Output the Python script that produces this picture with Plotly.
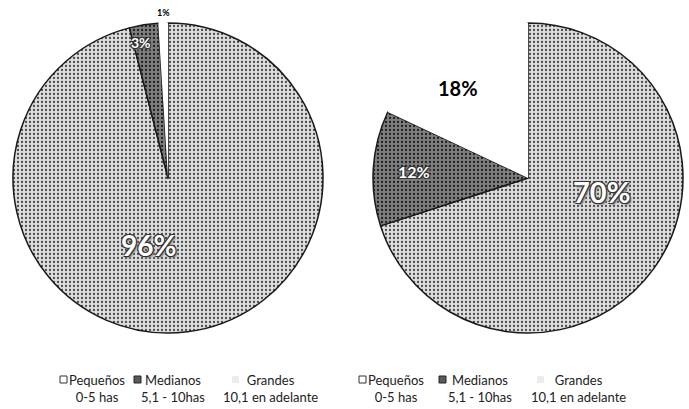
import plotly.graph_objects as go

# tamaño de las explotaciones
labels = ["Pequeños", "Medianos", "Grandes"]
rangos = ["0-5 has", "5,1 - 10has", "10,1 en adelante"]
izq_vals = [96, 3, 1]
der_vals = [70, 12, 18]

W, H = 689, 409
fills = ["#dedede", "#7e7e7e", "#ffffff"]
pattern = dict(shape=[".", ".", ""], fgcolor=["#4a4a4a", "#1e1e1e", "#ffffff"],
               bgcolor=fills, size=4, solidity=0.25)
outline = "1px 1px 0 #333, -1px -1px 0 #333, 1px -1px 0 #333, -1px 1px 0 #333, 2px 2px 2px #888"


def px(x, y):
    return x / W, 1 - y / H


fig = go.Figure()
for vals, dom in [(izq_vals, [13, 323]), (der_vals, [373, 683])]:
    fig.add_trace(go.Pie(
        labels=labels, values=vals, sort=False, direction="clockwise", rotation=0,
        domain=dict(x=[dom[0] / W, dom[1] / W], y=[1 - 333 / H, 1 - 23 / H]),
        marker=dict(colors=fills, pattern=pattern,
                    line=dict(color=["#1a1a1a", "#1a1a1a", "rgba(0,0,0,0)"], width=1.5)),
        textinfo="none", hoverinfo="skip", showlegend=False,
    ))

# etiquetas de porcentaje
etiquetas = [
    (izq_vals[0], 148, 245, 28, "white", outline),
    (izq_vals[1], 141, 42, 14, "white", outline),
    (izq_vals[2], 163, 12, 9, "black", "none"),
    (der_vals[0], 601, 192, 29, "white", outline),
    (der_vals[1], 414, 172, 16, "white", outline),
    (der_vals[2], 458, 88, 20, "black", "none"),
]
for v, x, y, s, c, sh in etiquetas:
    ax, ay = px(x, y)
    fig.add_annotation(x=ax, y=ay, xref="paper", yref="paper", text=f"{v}%",
                       showarrow=False, xanchor="center", yanchor="middle",
                       font=dict(family="Lato", size=s, color=c, weight="bold", shadow=sh))

# leyendas
sym_fill = ["#ffffff", "#5a5a5a", "#ececec"]
sym_line = ["#333333", "#222222", "rgba(0,0,0,0)"]
leyendas = [
    ([97, 173, 270], [60, 134, 232]),
    ([396, 480, 578], [359, 439, 537]),
]
for centros, simbolos in leyendas:
    for i in range(3):
        ax, ay = px(centros[i], 388)
        fig.add_annotation(x=ax, y=ay, xref="paper", yref="paper",
                           text=f"{labels[i]}<br>{rangos[i]}", showarrow=False,
                           xanchor="center", yanchor="middle", align="center",
                           font=dict(family="Lato", size=13, color="#222"))
        fig.add_shape(type="rect", xref="paper", yref="paper",
                      x0=simbolos[i] / W, x1=(simbolos[i] + 7) / W,
                      y0=1 - 383 / H, y1=1 - 376 / H,
                      fillcolor=sym_fill[i], line=dict(color=sym_line[i], width=1))

fig.update_layout(
    width=W, height=H, margin=dict(l=0, r=0, t=0, b=0, autoexpand=False),
    paper_bgcolor="white", plot_bgcolor="white", showlegend=False,
)

fig.write_html("out.html", config={"displayModeBar": False},
               post_script="document.body.style.margin='0px';")
